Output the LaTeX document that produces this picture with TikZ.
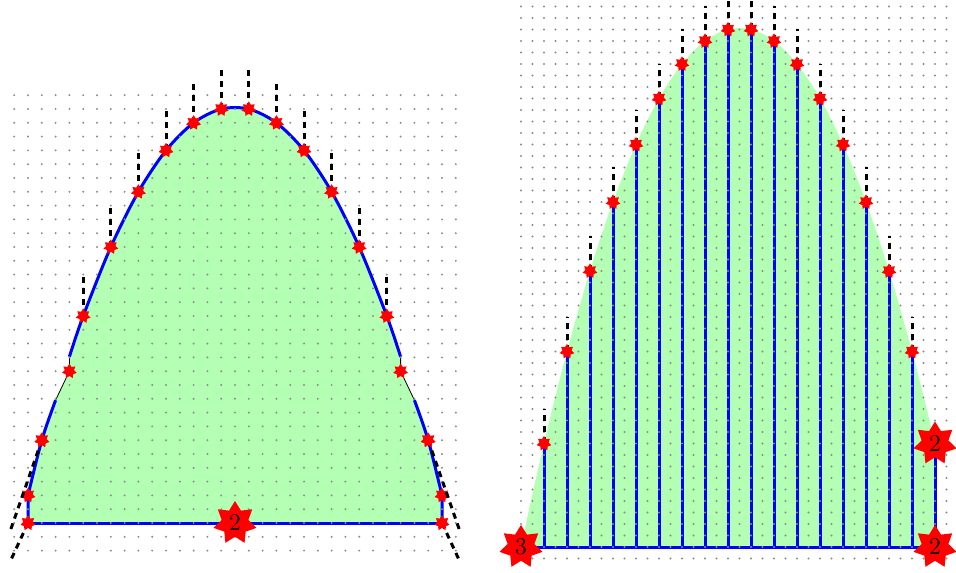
\documentclass[tikz,border=0pt]{standalone}
\usepackage{xcolor}
\usetikzlibrary{shapes.geometric}
\definecolor{areagreen}{RGB}{179,255,179}
\definecolor{dotgray}{RGB}{140,140,140}

\begin{document}
\begin{tikzpicture}[x=0.5pt, y=0.5pt,
                    gridpt/.style={dotgray},
                    curveline/.style={blue, line width=1.5pt},
                    thinline/.style={black, line width=0.4pt},
                    guideline/.style={black, line width=1.5pt, dash pattern=on 3pt off 2.5pt},
                    sample/.style={star, star points=7, star point ratio=1.6, fill=red,
                                   minimum size=7.6pt, inner sep=0pt},
                    bigsample/.style={star, star points=7, star point ratio=1.6, fill=red,
                                      minimum size=22pt, inner sep=0pt, font=\large}]

  \useasboundingbox (0,0) rectangle (956,572);

  %% linke Figur: Bogen mit adaptiven Stuetzstellen
  \begin{scope}[shift={(28,49)}, x=6.9pt, y=6.9pt]

    %% Flaeche unter dem Bogen
    \fill[areagreen] (0,0) -- (0,2)
      -- plot[smooth] coordinates {(0,2) (1,6) (2,8.9)} -- (3,11) -- (3,12.05)
      -- plot[smooth] coordinates {(3,12.05) (4,15) (6,20) (8,24) (10,27) (12,29) (14,30)
                                   (16,30) (18,29) (20,27) (22,24) (24,20) (26,15) (27,12.05)}
      -- (27,11) -- (28,8.9)
      -- plot[smooth] coordinates {(28,8.9) (29,6) (30,2)} -- (30,0) -- cycle;

    %% Sehnen, wo der Bogen fehlt
    \draw[thinline] (2,8.9) -- (3,11) -- (3,12.05);
    \draw[thinline] (27,12.05) -- (27,11) -- (28,8.9);

    %% der Bogen in drei Stuecken
    \draw[curveline] (0,0) -- (0,2) plot[smooth] coordinates {(0,2) (1,6) (2,8.9)};
    \draw[curveline] plot[smooth] coordinates {(3,12.05) (4,15) (6,20) (8,24) (10,27) (12,29)
                                               (14,30) (16,30) (18,29) (20,27) (22,24) (24,20)
                                               (26,15) (27,12.05)};
    \draw[curveline] plot[smooth] coordinates {(28,8.9) (29,6) (30,2)} -- (30,0);
    \draw[curveline] (0,0) -- (30,0);

    %% Punktraster
    \foreach \i in {-1,...,31}
      \foreach \j in {-2,...,31}
        \fill[gridpt] (\i,\j) circle (0.55pt);

    %% Stuetzstellen
    \node[sample] (l0) at (0,0) {};
    \node[sample] (l1) at (0,2) {};
    \node[sample] (l2) at (1,6) {};
    \node[sample] (l3) at (3,11) {};
    \node[sample] (l27) at (27,11) {};
    \node[sample] (l29) at (29,6) {};
    \node[sample] (l30) at (30,2) {};
    \node[sample] (l31) at (30,0) {};

    %% Randtangenten
    \coordinate (endA) at (-1.35,-0.75);
    \coordinate (endB) at (-1.25,-2.7);
    \coordinate (endC) at (31.35,-0.75);
    \coordinate (endD) at (31.25,-2.7);
    \draw[guideline] (l2.center) -- (endA);
    \draw[guideline] (l0.center) -- (endB);
    \draw[guideline] (l29.center) -- (endC);
    \draw[guideline] (l31.center) -- (endD);
    \foreach \n in {l0,l2,l29,l31} \node[sample] at (\n) {};

    \foreach \x/\y in {4/15, 6/20, 8/24, 10/27, 12/29, 14/30,
                       16/30, 18/29, 20/27, 22/24, 24/20, 26/15} {
      \draw[guideline] (\x,\y) -- ++(0,3);
      \node[sample] (l\x) at (\x,\y) {};
    }

    \node[bigsample] (lmid) at (15,0) {2};
  \end{scope}

  %% rechte Figur: Parabel mit Stabdiagramm
  \begin{scope}[shift={(521,25)}, x=5.75pt, y=5.75pt]

    \fill[areagreen] (0,0) -- plot[domain=0:36, samples=73, smooth] (\x,{\x*(38-\x)/8})
      -- (36,0) -- cycle;

    \foreach \k in {2,4,...,36}
      \draw[curveline] (\k,0) -- (\k,{\k*(38-\k)/8});
    \draw[curveline] (0,0) -- (36,0);

    %% Punktraster
    \foreach \i in {0,...,37}
      \foreach \j in {-1,...,47}
        \fill[gridpt] (\i,\j) circle (0.55pt);

    \foreach \k in {2,4,...,34} {
      \draw[guideline] (\k,{\k*(38-\k)/8}) -- ++(0,3);
      \node[sample] (r\k) at (\k,{\k*(38-\k)/8}) {};
    }

    \node[bigsample] (r0) at (0,0) {3};
    \node[bigsample] (r36) at (36,9) {2};
    \node[bigsample] (rend) at (36,0) {2};
  \end{scope}

\end{tikzpicture}
\end{document}
